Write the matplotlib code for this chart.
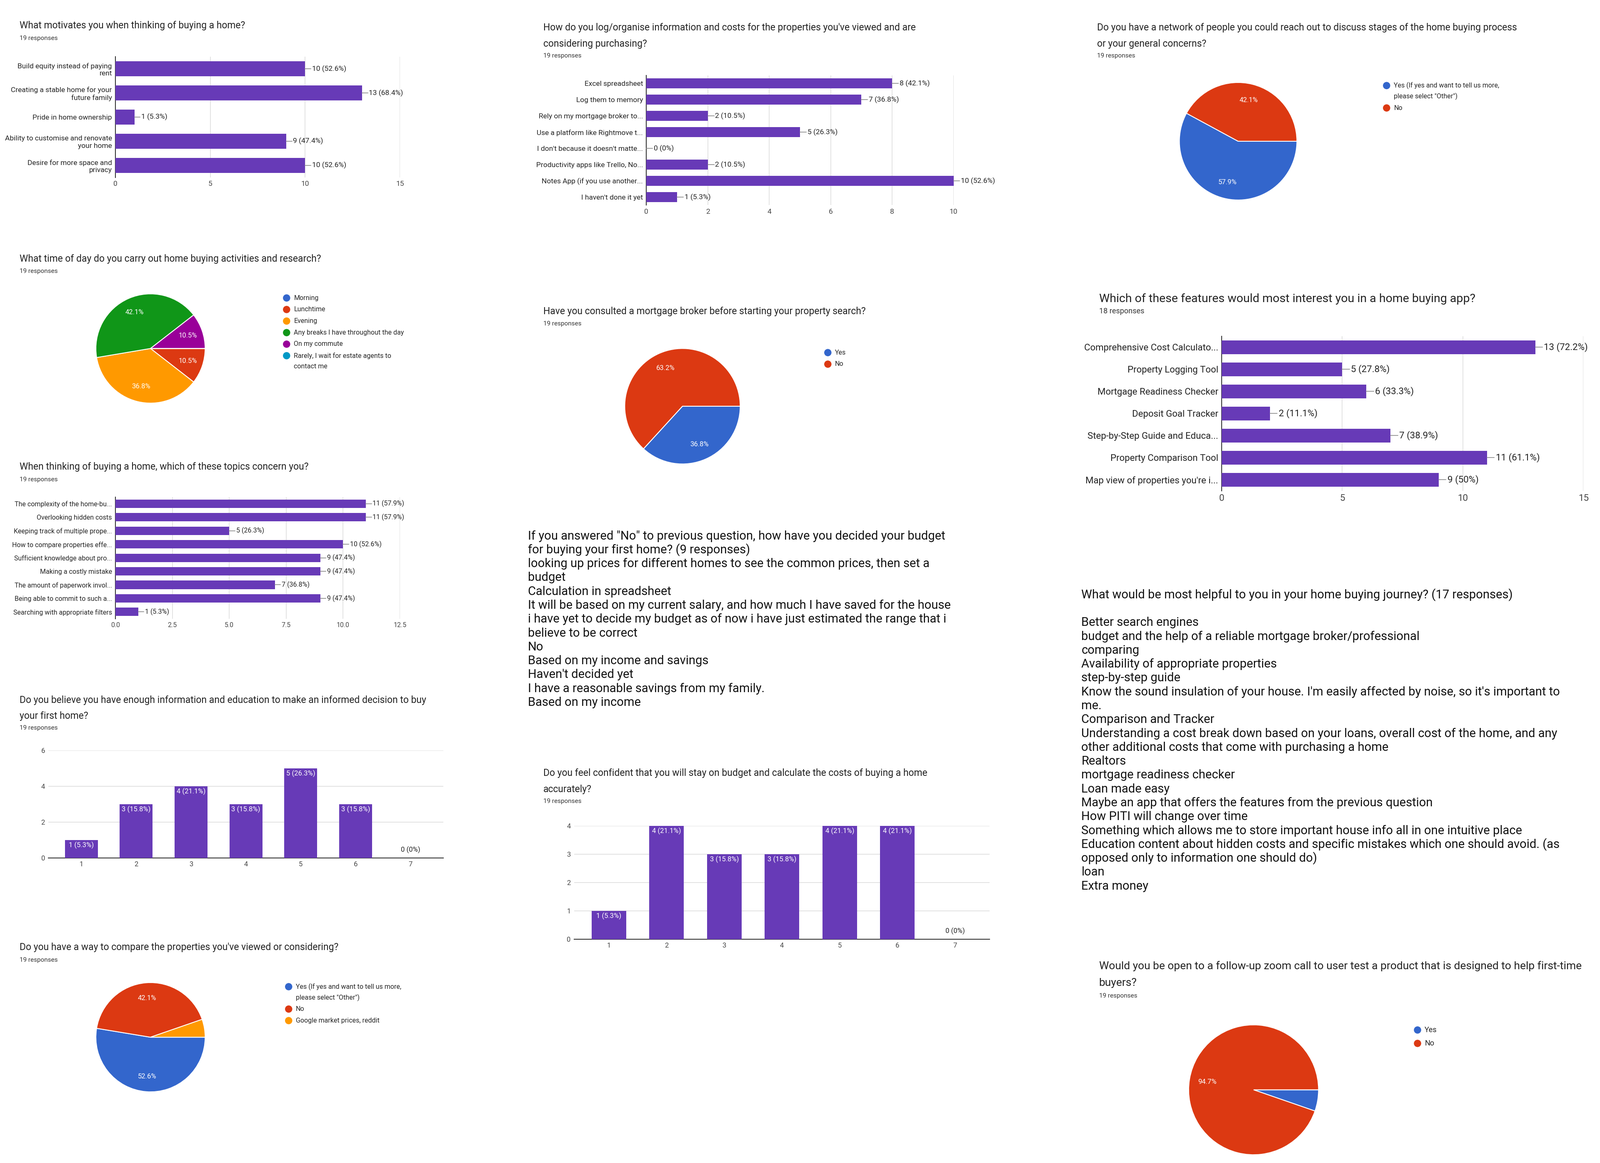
import matplotlib
matplotlib.use("Agg")
import matplotlib.pyplot as plt

plt.rcParams["font.family"] = "Roboto"
W, H = 1552.0, 1128.0
PURPLE = "#673ab7"; BLUE = "#3366cc"; RED = "#dc3912"; ORANGE = "#ff9900"
GREEN = "#109618"; MAG = "#990099"; CYAN = "#0099c6"

# ---------- data ----------
motiv_cats = ["Build equity instead of paying\nrent", "Creating a stable home for your\nfuture family",
              "Pride in home ownership", "Ability to customise and renovate\nyour home",
              "Desire for more space and\nprivacy"]
motiv_vals = [10, 13, 1, 9, 10]
motiv_pcts = ["52.6%", "68.4%", "5.3%", "47.4%", "52.6%"]

log_cats = ["Excel spreadsheet", "Log them to memory", "Rely on my mortgage broker to...",
            "Use a platform like Rightmove t...", "I don't because it doesn't matte...",
            "Productivity apps like Trello, No...", "Notes App (if you use another...", "I haven't done it yet"]
log_vals = [8, 7, 2, 5, 0, 2, 10, 1]
log_pcts = ["42.1%", "36.8%", "10.5%", "26.3%", "0%", "10.5%", "52.6%", "5.3%"]

network_labels = ["Yes (If yes and want to tell us more,\nplease select \"Other\")", "No"]
network_vals = [57.9, 42.1]

time_labels = ["Morning", "Lunchtime", "Evening", "Any breaks I have throughout the day",
               "On my commute", "Rarely, I wait for estate agents to\ncontact me"]
time_vals = [0, 10.5, 36.8, 42.1, 10.5, 0]

broker_labels = ["Yes", "No"]
broker_vals = [36.8, 63.2]

feat_cats = ["Comprehensive Cost Calculato...", "Property Logging Tool", "Mortgage Readiness Checker",
             "Deposit Goal Tracker", "Step-by-Step Guide and Educa...", "Property Comparison Tool",
             "Map view of properties you're i..."]
feat_vals = [13, 5, 6, 2, 7, 11, 9]
feat_pcts = ["72.2%", "27.8%", "33.3%", "11.1%", "38.9%", "61.1%", "50%"]

concern_cats = ["The complexity of the home-bu...", "Overlooking hidden costs", "Keeping track of multiple prope...",
                "How to compare properties effe...", "Sufficient knowledge about pro...", "Making a costly mistake",
                "The amount of paperwork invol...", "Being able to commit to such a...",
                "Searching with appropriate filters"]
concern_vals = [11, 11, 5, 10, 9, 9, 7, 9, 1]
concern_pcts = ["57.9%", "57.9%", "26.3%", "52.6%", "47.4%", "47.4%", "36.8%", "47.4%", "5.3%"]

budget_lines = [
    "If you answered \"No\" to previous question, how have you decided your budget",
    "for buying your first home? (9 responses)",
    "looking up prices for different homes to see the common prices, then set a",
    "budget",
    "Calculation in spreadsheet",
    "It will be based on my current salary, and how much I have saved for the house",
    "i have yet to decide my budget as of now i have just estimated the range that i",
    "believe to be correct",
    "No",
    "Based on my income and savings",
    "Haven't decided yet",
    "I have a reasonable savings from my family.",
    "Based on my income",
]

info_cats = ["1", "2", "3", "4", "5", "6", "7"]
info_vals = [1, 3, 4, 3, 5, 3, 0]
info_pcts = ["5.3%", "15.8%", "21.1%", "15.8%", "26.3%", "15.8%", "0%"]

conf_cats = ["1", "2", "3", "4", "5", "6", "7"]
conf_vals = [1, 4, 3, 3, 4, 4, 0]
conf_pcts = ["5.3%", "21.1%", "15.8%", "15.8%", "21.1%", "21.1%", "0%"]

helpful_lines = [
    "What would be most helpful to you in your home buying journey? (17 responses)",
    "",
    "Better search engines",
    "budget and the help of a reliable mortgage broker/professional",
    "comparing",
    "Availability of appropriate properties",
    "step-by-step guide",
    "Know the sound insulation of your house. I'm easily affected by noise, so it's important to",
    "me.",
    "Comparison and Tracker",
    "Understanding a cost break down based on your loans, overall cost of the home, and any",
    "other additional costs that come with purchasing a home",
    "Realtors",
    "mortgage readiness checker",
    "Loan made easy",
    "Maybe an app that offers the features from the previous question",
    "How PITI will change over time",
    "Something which allows me to store important house info all in one intuitive place",
    "Education content about hidden costs and specific mistakes which one should avoid. (as",
    "opposed only to information one should do)",
    "loan",
    "Extra money",
]

compare_labels = ["Yes (If yes and want to tell us more,\nplease select \"Other\")", "No",
                  "Google market prices, reddit"]
compare_vals = [52.6, 42.1, 5.3]

zoom_labels = ["Yes", "No"]
zoom_vals = [5.3, 94.7]

# ---------- figure ----------
fig = plt.figure(figsize=(38.4, 27.91), dpi=100)

def rect(x0, y0, x1, y1):
    return [x0 / W, 1 - y1 / H, (x1 - x0) / W, (y1 - y0) / H]

def ftext(x, y, s, **kw):
    fig.text(x / W, 1 - y / H, s, va="center", ha="left", **kw)

def title(x, y, lines, sub, size=16.5, gap=15.5, subsize=11):
    for i, l in enumerate(lines):
        ftext(x, y + i * gap, l, fontsize=size, color="#222222")
    ftext(x, y + len(lines) * gap - 4 if len(lines) > 1 else y + 12, sub, fontsize=subsize, color="#333333")

def hbar(r, cats, vals, pcts, xmax, xticks, xtl=None, fs=12):
    ax = fig.add_axes(rect(*r))
    y = list(range(len(cats)))
    ax.barh(y, vals, height=0.62, color=PURPLE, zorder=3)
    ax.set_ylim(len(cats) - 0.5, -0.5)
    ax.set_xlim(0, xmax)
    ax.set_yticks(y); ax.set_yticklabels(cats, fontsize=fs, color="#222222")
    ax.set_xticks(xticks)
    ax.set_xticklabels(xtl if xtl else [str(t) for t in xticks], fontsize=fs, color="#444444")
    ax.tick_params(length=0, pad=6)
    ax.grid(axis="x", color="#dddddd", lw=1.2, zorder=0)
    for s in ["top", "right", "bottom"]:
        ax.spines[s].set_visible(False)
    ax.spines["left"].set_color("#333333"); ax.spines["left"].set_linewidth(1.5)
    d = xmax * 0.02
    for yi, v, p in zip(y, vals, pcts):
        ax.plot([v, v + d], [yi, yi], color="#888888", lw=1.2, zorder=4, clip_on=False)
        ax.text(v + d * 1.2, yi, f"{v} ({p})", va="center", ha="left", fontsize=fs, color="#222222")
    return ax

def vbar(r, cats, vals, pcts, ymax, yticks):
    ax = fig.add_axes(rect(*r))
    x = list(range(len(cats)))
    ax.bar(x, vals, width=0.6, color=PURPLE, zorder=3)
    ax.set_xlim(-0.6, len(cats) - 0.4)
    ax.set_ylim(0, ymax)
    ax.set_xticks(x); ax.set_xticklabels(cats, fontsize=12, color="#444444")
    ax.set_yticks(yticks); ax.set_yticklabels([str(t) for t in yticks], fontsize=12, color="#444444")
    ax.tick_params(length=0, pad=6)
    ax.grid(axis="y", color="#dddddd", lw=1.2, zorder=0)
    for s in ["top", "right", "left"]:
        ax.spines[s].set_visible(False)
    ax.spines["bottom"].set_color("#333333"); ax.spines["bottom"].set_linewidth(1.5)
    for xi, v, p in zip(x, vals, pcts):
        if v > 0:
            ax.text(xi, v - ymax * 0.015, f"{v} ({p})", ha="center", va="top", fontsize=12, color="white", zorder=5)
        else:
            ax.text(xi, ymax * 0.04, f"{v} ({p})", ha="center", va="bottom", fontsize=12, color="#222222")

def pie(cx, cy, r, vals, colors, labels, legx, legy, leg_gap=11.2, pct_fs=12, leg_fs=11.5):
    ax = fig.add_axes(rect(cx - r, cy - r, cx + r, cy + r))
    ax.pie(vals, colors=colors, startangle=0, counterclock=False,
           autopct=lambda p: f"{p:.1f}%" if p >= 10 else "",
           pctdistance=0.72, wedgeprops=dict(edgecolor="white", linewidth=1.5),
           textprops=dict(color="white", fontsize=pct_fs))
    ax.set_aspect("equal"); ax.set_xlim(-1, 1); ax.set_ylim(-1, 1)
    yy = legy
    for lab, c in zip(labels, colors):
        fig.patches.append(matplotlib.patches.Ellipse(((legx) / W, 1 - yy / H), 6.5 / W, 6.5 / H,
                                                      transform=fig.transFigure, color=c))
        for j, part in enumerate(lab.split("\n")):
            ftext(legx + 7, yy + j * 10.5, part, fontsize=leg_fs, color="#222222")
        yy += leg_gap + 10.5 * (lab.count("\n"))

# Panel 1
title(19, 25, ["What motivates you when thinking of buying a home?"], "19 responses")
hbar((112, 55, 388, 172), motiv_cats, motiv_vals, motiv_pcts, 15, [0, 5, 10, 15], fs=12.5)

# Panel 2
title(527, 27, ["How do you log/organise information and costs for the properties you've viewed and are",
                "considering purchasing?"], "19 responses")
hbar((627, 73, 925, 199), log_cats, log_vals, log_pcts, 10, [0, 2, 4, 6, 8, 10], fs=12.5)

# Panel 3
title(1064, 27, ["Do you have a network of people you could reach out to discuss stages of the home buying process",
                 "or your general concerns?"], "19 responses")
pie(1201, 137, 57, network_vals, [BLUE, RED], network_labels, 1345, 83)

# Panel 4
title(19, 251, ["What time of day do you carry out home buying activities and research?"], "19 responses")
pie(146, 338, 53, time_vals, [BLUE, RED, ORANGE, GREEN, MAG, CYAN], time_labels, 278, 289)

# Panel 5
title(527, 302, ["Have you consulted a mortgage broker before starting your property search?"], "19 responses")
pie(662, 394, 56, broker_vals, [BLUE, RED], broker_labels, 803, 342)

# Panel 6
title(1066, 290, ["Which of these features would most interest you in a home buying app?"], "18 responses",
      size=20.5, subsize=13)
hbar((1185, 326, 1536, 476), feat_cats, feat_vals, feat_pcts, 15, [0, 5, 10, 15], fs=16)

# Panel 7
title(19, 453, ["When thinking of buying a home, which of these topics concern you?"], "19 responses")
hbar((112, 482, 388, 600), concern_cats, concern_vals, concern_pcts, 12.5,
     [0, 2.5, 5, 7.5, 10, 12.5], ["0.0", "2.5", "5.0", "7.5", "10.0", "12.5"], fs=11.5)

# Budget text block
for i, l in enumerate(budget_lines):
    ftext(512, 520 + i * 13.45, l, fontsize=21, color="#111111")

# Panel 8
title(19, 679, ["Do you believe you have enough information and education to make an informed decision to buy",
                "your first home?"], "19 responses")
vbar((47, 728, 430, 832), info_cats, info_vals, info_pcts, 6, [0, 2, 4, 6])

# Panel 9
title(527, 750, ["Do you feel confident that you will stay on budget and calculate the costs of buying a home",
                 "accurately?"], "19 responses")
vbar((557, 801, 960, 911), conf_cats, conf_vals, conf_pcts, 4, [0, 1, 2, 3, 4])

# Helpful text block
for i, l in enumerate(helpful_lines):
    ftext(1049, 577 + i * 13.45, l, fontsize=21, color="#111111")

# Panel 11
title(19, 919, ["Do you have a way to compare the properties you've viewed or considering?"], "19 responses")
pie(146, 1006, 53, compare_vals, [BLUE, RED, ORANGE], compare_labels, 280, 957)

# Panel 12
title(1066, 937, ["Would you be open to a follow-up zoom call to user test a product that is designed to help first-time",
                  "buyers?"], "19 responses", size=19, gap=16.5)
pie(1216, 1057, 63, zoom_vals, [BLUE, RED], zoom_labels, 1375, 999, leg_gap=13, leg_fs=13)

fig.savefig("out.png", dpi=100, facecolor="white")
